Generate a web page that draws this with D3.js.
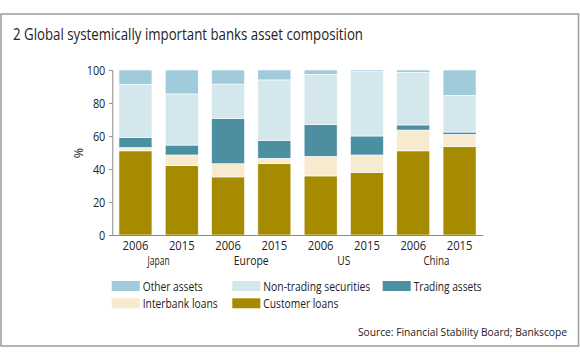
<!DOCTYPE html>
<html><head><meta charset="utf-8">
<script src="https://cdn.jsdelivr.net/npm/d3@7"></script>
<style>
body{margin:0;background:#fff;}
svg text{font-family:"Open Sans",sans-serif;fill:#222;}
</style></head>
<body><svg id="c" width="580" height="358"></svg>
<script>
const years = ["2006","2015","2006","2015","2006","2015","2006","2015"];
const regions = ["Japan","Europe","US","China"];
const customerLoans = [51, 42, 35.2, 43.2, 35.8, 38, 51, 53.7];
const interbankLoans = [2, 6.5, 8, 3.3, 11.9, 10.5, 12.6, 7.3];
const tradingAssets = [6, 6, 27.5, 10.9, 19.2, 11.5, 3.1, 1.4];
const nonTradingSecurities = [32.3, 31, 20.8, 36.6, 30.5, 39, 31.9, 22.2];
const otherAssets = [8.7, 14.5, 8.5, 6, 2.6, 1, 1.4, 15.4];
const seriesNames = ["Customer loans","Interbank loans","Trading assets","Non-trading securities","Other assets"];
const seriesColors = ["#a68a00","#f7ebcf","#4b8fa1","#d3e7ec","#9fcbda"];
const yTicks = [0,20,40,60,80,100];

const svg = d3.select("#c");
// condense text to a target width (reference font is narrow)
function fit(sel, w){ sel.attr("textLength", w).attr("lengthAdjust","spacingAndGlyphs"); return sel; }

svg.append("rect").attr("x",1).attr("y",14).attr("width",577.5).attr("height",332)
  .attr("fill","none").attr("stroke","#9a9a9a").attr("stroke-width",1.5);
fit(svg.append("text").attr("x",13).attr("y",40).attr("font-size",17)
  .text("2 Global systemically important banks asset composition"), 350);

const idx = d3.range(years.length);
const x = d3.scaleBand().domain(idx).range([112.3,482.7]).paddingInner(0.287).paddingOuter(0.1435);
const y = d3.scaleLinear().domain([0,100]).range([235,70]);

const rows = idx.map(i=>({i, "Customer loans":customerLoans[i],"Interbank loans":interbankLoans[i],
  "Trading assets":tradingAssets[i],"Non-trading securities":nonTradingSecurities[i],"Other assets":otherAssets[i]}));
const stack = d3.stack().keys(seriesNames)(rows);

svg.append("g").selectAll("g").data(stack).join("g")
  .attr("fill",(d,k)=>seriesColors[k])
  .selectAll("rect").data(d=>d).join("rect")
  .attr("x",d=>x(d.data.i)).attr("width",x.bandwidth())
  .attr("y",d=>y(d[1])).attr("height",d=>y(d[0])-y(d[1]))
  .attr("stroke","#fff").attr("stroke-width",0.6);

const ya = svg.append("g").attr("transform","translate(112.3,0)")
  .call(d3.axisLeft(y).tickValues(yTicks).tickSize(3).tickPadding(4));
ya.select(".domain").attr("stroke","#8a8a8a");
ya.selectAll(".tick line").attr("stroke","#8a8a8a");
ya.selectAll("text").attr("font-size",12.5).attr("fill","#222").attr("font-family","\"Open Sans\",sans-serif")
  .each(function(d){ const n = String(d).length; d3.select(this).attr("textLength", n*6.2).attr("lengthAdjust","spacingAndGlyphs"); });

const xa = svg.append("g").attr("transform","translate(0,235)")
  .call(d3.axisBottom(x).tickFormat(i=>years[i]).tickSize(0).tickPadding(6));
xa.select(".domain").attr("stroke","#8a8a8a").attr("stroke-width",1.2);
xa.selectAll("text").attr("font-size",12.5).attr("fill","#222").attr("font-family","\"Open Sans\",sans-serif")
  .attr("textLength",25.7).attr("lengthAdjust","spacingAndGlyphs");

const regionW = {Japan:22, Europe:35, US:13, China:26};
regions.forEach((r,k)=>{
  const cx = (x(2*k) + x(2*k+1) + x.bandwidth())/2;
  fit(svg.append("text").attr("x",cx).attr("y",265).attr("text-anchor","middle").attr("font-size",12.5).text(r), regionW[r]);
});

svg.append("text").attr("transform","translate(83,153) rotate(-90)").attr("text-anchor","middle")
  .attr("font-size",12.5).text("%");

const leg = [
  {k:4, x:111.7, y:281, w:60}, {k:3, x:232.3, y:281, w:107}, {k:2, x:382.7, y:281, w:68},
  {k:1, x:111.7, y:298.3, w:75}, {k:0, x:232.3, y:298.3, w:75}
];
leg.forEach(l=>{
  svg.append("rect").attr("x",l.x).attr("y",l.y).attr("width",28).attr("height",10).attr("fill",seriesColors[l.k]);
  fit(svg.append("text").attr("x",l.x+31).attr("y",l.y+9.5).attr("font-size",12.5).text(seriesNames[l.k]), l.w);
});

const src = svg.append("text").attr("x",358).attr("y",336).attr("font-size",11.5)
  .text("Source: Financial Stability Board; Bankscope");
const natural = src.node().getComputedTextLength();
if (natural > 209) src.attr("font-size", 11.5 * 209 / natural);
</script></body></html>
